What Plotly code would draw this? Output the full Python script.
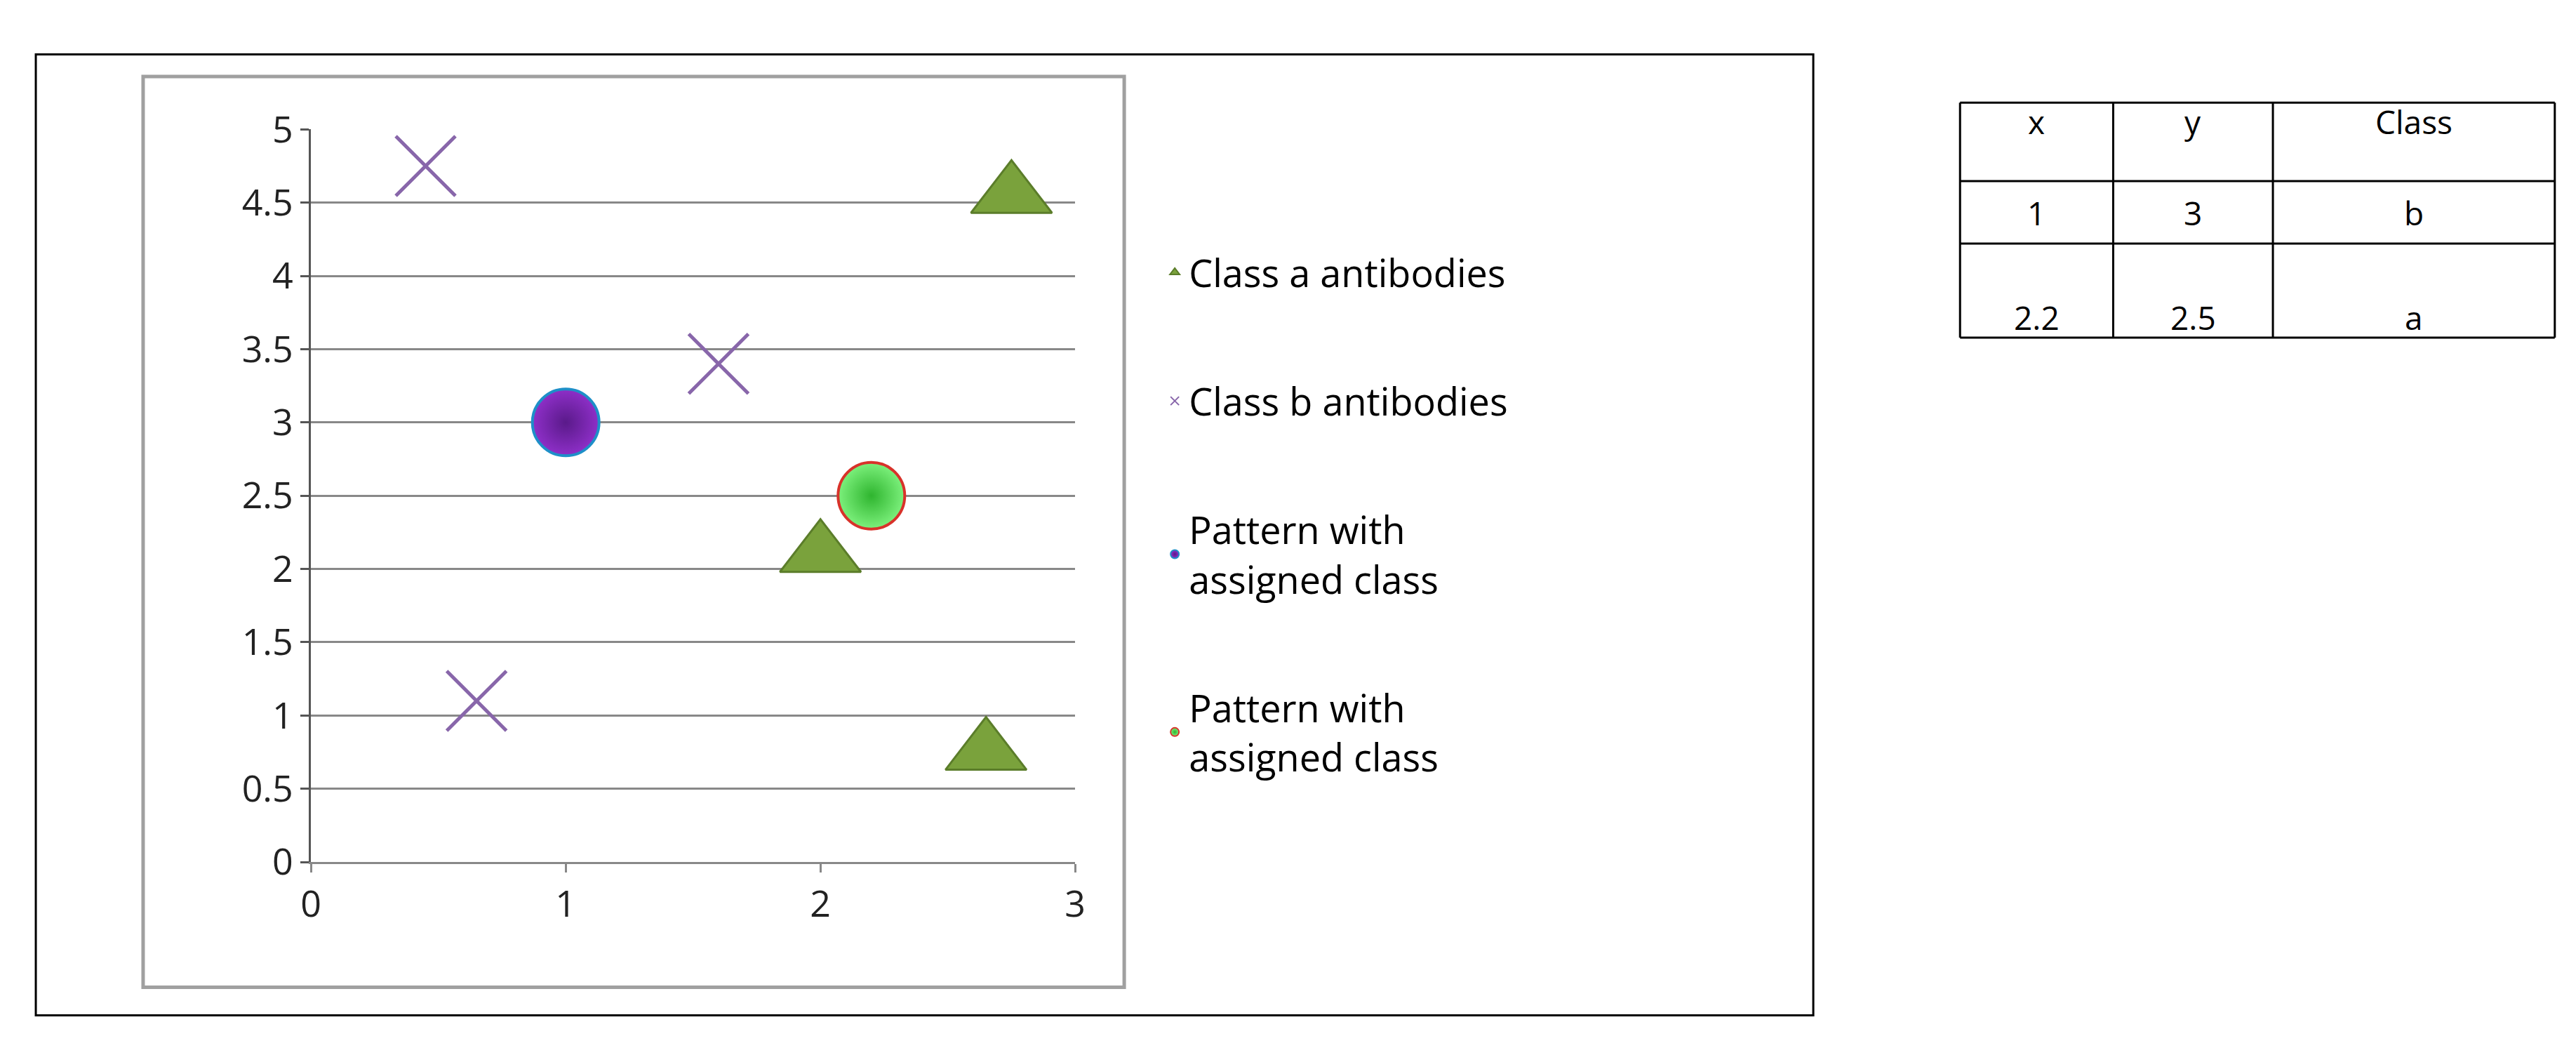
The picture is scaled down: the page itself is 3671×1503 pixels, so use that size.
import plotly.graph_objects as go

# data
class_a_x = [2.75, 2.0, 2.65]
class_a_y = [4.55, 2.1, 0.75]
class_b_x = [0.45, 1.6, 0.65]
class_b_y = [4.75, 3.4, 1.1]
pattern_b = ([1.0], [3.0])
pattern_a = ([2.2], [2.5])

table_head = ["x", "y", "Class"]
table_rows = [["1", "3", "b"], ["2.2", "2.5", "a"]]

W, H = 3671, 1503
FONT = "Open Sans"

fig = go.Figure()
fig.add_trace(go.Scatter(x=class_a_x, y=class_a_y, mode="markers", name="Class a antibodies",
                         legendgroup="a",
                         marker=dict(symbol="triangle-up", size=100, color="#7AA23C",
                                     line=dict(color="#5B7D2A", width=3))))
fig.add_trace(go.Scatter(x=class_b_x, y=class_b_y, mode="markers", name="Class b antibodies",
                         legendgroup="b",
                         marker=dict(symbol="x-thin-open", size=85, color="#8866AA",
                                     line=dict(color="#8866AA", width=5))))
fig.add_trace(go.Scatter(x=pattern_b[0], y=pattern_b[1], mode="markers",
                         name="Pattern with<br>assigned class", legendgroup="c",
                         marker=dict(symbol="circle", size=95, color="#8E2FC8",
                                     gradient=dict(type="radial", color="#5A1A8A"),
                                     line=dict(color="#1E8FC8", width=4))))
fig.add_trace(go.Scatter(x=pattern_a[0], y=pattern_a[1], mode="markers",
                         name="Pattern with<br>assigned class", legendgroup="d",
                         marker=dict(symbol="circle", size=95, color="#7CF07C",
                                     gradient=dict(type="radial", color="#2FB52F"),
                                     line=dict(color="#D8322A", width=4))))

# chart frame + plot area frame
fig.add_shape(type="rect", xref="paper", yref="paper", x0=0.0077, x1=0.7034, y0=0.022, y1=0.978,
              line=dict(color="black", width=3))
fig.add_shape(type="rect", xref="paper", yref="paper", x0=0.0497, x1=0.4337, y0=0.05, y1=0.956,
              line=dict(color="#A0A0A0", width=5))

# table drawn with shapes and text
col_px = [1193, 1287, 1385, 1558]
row_px = [45, 95, 135, 195]
sx, sy = 1568, 642
xs = [c / sx for c in col_px]
ys = [1 - r / sy for r in row_px]
for x in xs:
    fig.add_shape(type="line", xref="paper", yref="paper", x0=x, x1=x, y0=ys[-1], y1=ys[0],
                  line=dict(color="black", width=3))
for y in ys:
    fig.add_shape(type="line", xref="paper", yref="paper", x0=xs[0], x1=xs[-1], y0=y, y1=y,
                  line=dict(color="black", width=3))
text_y = [57, 115, 182]
for r, row in enumerate([table_head] + table_rows):
    for c, val in enumerate(row):
        fig.add_annotation(x=(xs[c] + xs[c + 1]) / 2, y=1 - text_y[r] / sy, xref="paper", yref="paper",
                           xanchor="center", yanchor="middle",
                           text=val, showarrow=False, font=dict(family=FONT, size=46, color="black"))

fig.update_layout(
    width=W, height=H, paper_bgcolor="white", plot_bgcolor="white",
    margin=dict(l=0, r=0, t=0, b=0),
    font=dict(family=FONT, size=52, color="#222"),
    legend=dict(x=0.448, y=0.52, yanchor="middle", font=dict(size=54, color="black"),
                tracegroupgap=110, itemsizing="constant", bgcolor="rgba(0,0,0,0)"),
    xaxis=dict(domain=[0.1154, 0.4145], range=[0, 3], tickvals=[0, 1, 2, 3],
               showgrid=False, zeroline=False, showline=True, linecolor="#888", linewidth=3,
               ticks="outside", ticklen=12, tickcolor="#888", tickwidth=3),
    yaxis=dict(domain=[0.1745, 0.9034], range=[0, 5], tickvals=[0, 0.5, 1, 1.5, 2, 2.5, 3, 3.5, 4, 4.5, 5],
               showgrid=True, gridcolor="#888", gridwidth=3, zeroline=False,
               showline=True, linecolor="#555", linewidth=3,
               ticks="outside", ticklen=12, tickcolor="#555", tickwidth=3),
)

fig.write_html("out.html")
